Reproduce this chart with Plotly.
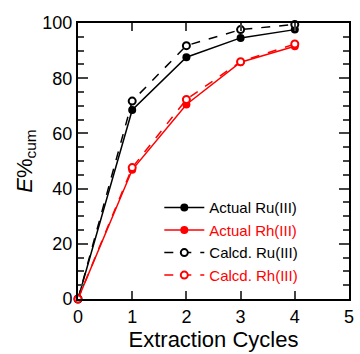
import plotly.graph_objects as go

cycles = [0, 1, 2, 3, 4]
actual_ru = [0, 68.5, 87.6, 94.6, 97.6]
actual_rh = [0, 46.8, 70.5, 85.8, 91.6]
calcd_ru = [0, 71.7, 91.8, 97.6, 99.5]
calcd_rh = [0, 47.6, 72.3, 86.0, 92.4]

names = ["Actual Ru(III)", "Actual Rh(III)", "Calcd. Ru(III)", "Calcd. Rh(III)"]
x_tick_vals = [0, 1, 2, 3, 4, 5]
y_tick_vals = [0, 20, 40, 60, 80, 100]

FONT = "Liberation Sans, Arial, sans-serif"

fig = go.Figure()

def add(y, name, color, dash, filled):
    fig.add_trace(go.Scatter(
        x=cycles, y=y, mode="lines+markers",
        name=f'<span style="color:{color}">{name}</span>',
        line=dict(color=color, width=1.5, dash=dash),
        marker=dict(symbol="circle", size=8 if filled else 7,
                    color=color if filled else "white",
                    line=dict(color=color, width=0 if filled else 2)),
        cliponaxis=False,
    ))

add(actual_ru, names[0], "black", "solid", True)
add(actual_rh, names[1], "red", "solid", True)
add(calcd_ru, names[2], "black", "dash", False)
add(calcd_rh, names[3], "red", "dash", False)

fig.update_layout(
    width=360, height=354,
    margin=dict(l=78, r=6, t=23, b=55),
    paper_bgcolor="white", plot_bgcolor="white",
    font=dict(family=FONT, color="black", size=18),
    showlegend=True,
    legend=dict(x=0.30, y=0.39, xanchor="left", yanchor="top",
                bgcolor="rgba(0,0,0,0)", font=dict(size=15, family=FONT),
                tracegroupgap=0, itemwidth=40),
    xaxis=dict(range=[0, 5], tickvals=x_tick_vals, ticks="inside", ticklen=8,
               tickwidth=1.5, showline=True, linewidth=2, linecolor="black",
               mirror="ticks", showgrid=False, zeroline=False,
               tickfont=dict(size=18),
               title=dict(text="Extraction Cycles", font=dict(size=22), standoff=4)),
    yaxis=dict(range=[0, 100], tickvals=y_tick_vals, ticks="inside", ticklen=10,
               tickwidth=1.5, showline=True, linewidth=2, linecolor="black",
               mirror="ticks", showgrid=False, zeroline=False,
               tickfont=dict(size=18),
               minor=dict(dtick=5, ticks="inside", ticklen=6, tickwidth=1.5,
                          showgrid=False),
               title=dict(text="<i>E</i>%<sub>cum</sub>", font=dict(size=22), standoff=4)),
)

fig.write_html("out.html")
